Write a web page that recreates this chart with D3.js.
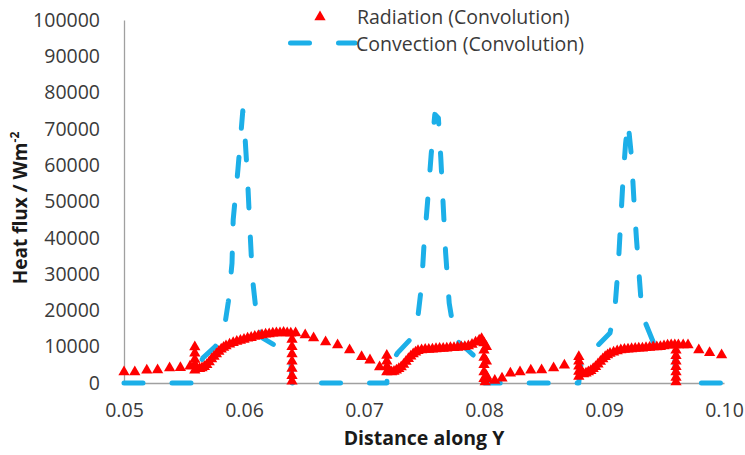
<!DOCTYPE html>
<html>
<head>
<meta charset="utf-8">
<script src="https://cdn.jsdelivr.net/npm/d3@7"></script>
<style>
  body { margin: 0; background: #fff; }
  text { font-family: "Open Sans", sans-serif; }
</style>
</head>
<body>
<div id="chart"></div>
<script>
// chart data
const xTicks = [0.05, 0.06, 0.07, 0.08, 0.09, 0.10];
const yTicks = [0, 10000, 20000, 30000, 40000, 50000, 60000, 70000, 80000, 90000, 100000];
const seriesNames = ["Radiation (Convolution)", "Convection (Convolution)"];
const xTitle = "Distance along Y";

// [distance, heat flux]
const radiation = [
  [0.0500, 3000], [0.0509, 3000], [0.0519, 3500], [0.0528, 3600], [0.0538, 4100], [0.0547, 4200], [0.0555, 4600],
  [0.0559, 3500], [0.0559, 5000], [0.0559, 6500], [0.0559, 8200], [0.0559, 9900],
  [0.0561, 4000], [0.0563, 3900], [0.0565, 4100], [0.0567, 4500], [0.0569, 5000], [0.0571, 5800], [0.0573, 6600],
  [0.0575, 7300], [0.0577, 8000], [0.0579, 8700], [0.0581, 9300], [0.0583, 9800], [0.0585, 10200], [0.0588, 10700],
  [0.0591, 11100], [0.0594, 11400], [0.0597, 11700], [0.0600, 12000], [0.0603, 12300], [0.0606, 12500], [0.0609, 12800],
  [0.0612, 13000], [0.0615, 13200], [0.0618, 13400], [0.0621, 13500], [0.0624, 13700], [0.0627, 13800], [0.0630, 13800],
  [0.0633, 13900], [0.0636, 13800], [0.0639, 13700],
  [0.0640, 12000], [0.0640, 10000], [0.0640, 8000], [0.0640, 6000], [0.0640, 4000], [0.0640, 2000], [0.0640, 500],
  [0.0643, 13800], [0.0651, 13200], [0.0658, 12400], [0.0668, 11300], [0.0678, 10500], [0.0688, 9100], [0.0698, 7200],
  [0.0705, 6300], [0.0713, 4400],
  [0.0719, 3000], [0.0719, 4500], [0.0719, 6000], [0.0719, 7600],
  [0.0721, 3500], [0.0723, 3000], [0.0725, 3200], [0.0727, 3500], [0.0729, 3900], [0.0731, 4400], [0.0733, 5100],
  [0.0735, 5900], [0.0737, 6700], [0.0739, 7400], [0.0741, 8000], [0.0743, 8500], [0.0745, 8900], [0.0748, 9100],
  [0.0751, 9200], [0.0754, 9200], [0.0757, 9300], [0.0760, 9400], [0.0763, 9500], [0.0766, 9500], [0.0769, 9600],
  [0.0772, 9700], [0.0775, 9700], [0.0778, 9800], [0.0781, 9900], [0.0784, 10000], [0.0787, 10200], [0.0790, 10600],
  [0.0793, 11200], [0.0796, 11800], [0.0798, 12200],
  [0.0800, 11000], [0.0800, 9000], [0.0800, 7000], [0.0800, 5000], [0.0800, 3000], [0.0800, 1200], [0.0801, 300],
  [0.0802, 10000], [0.0802, 6000], [0.0802, 2000],
  [0.0803, 1200], [0.0809, 700], [0.0815, 1300], [0.0822, 2700], [0.0830, 3000], [0.0839, 3500], [0.0848, 3600],
  [0.0858, 4100], [0.0867, 4900],
  [0.0879, 1800], [0.0879, 3200], [0.0879, 4600], [0.0879, 6000], [0.0879, 7200],
  [0.0881, 3000], [0.0883, 2500], [0.0885, 2700], [0.0887, 3000], [0.0889, 3400], [0.0891, 3900], [0.0893, 4500],
  [0.0895, 5200], [0.0897, 5900], [0.0899, 6600], [0.0901, 7200], [0.0903, 7700], [0.0905, 8100], [0.0908, 8500],
  [0.0911, 8800], [0.0914, 9100], [0.0917, 9200], [0.0920, 9300], [0.0923, 9400], [0.0926, 9500], [0.0929, 9600],
  [0.0932, 9600], [0.0935, 9700], [0.0938, 9800], [0.0941, 9900], [0.0944, 9900], [0.0947, 10000], [0.0950, 10200],
  [0.0953, 10400], [0.0956, 10500], [0.0959, 10500],
  [0.0960, 9000], [0.0960, 7500], [0.0960, 6000], [0.0960, 4500], [0.0960, 3000], [0.0960, 1500], [0.0960, 300],
  [0.0962, 10500], [0.0966, 10500], [0.0970, 10500], [0.0979, 9100], [0.0988, 8300], [0.0998, 7700]
];

const convection = [
  [0.0500, 0], [0.0559, 0], [0.0560, 3500], [0.0566, 7000], [0.0576, 10000], [0.0582, 13000], [0.0584, 16000],
  [0.0587, 22500], [0.0590, 33000], [0.0591, 45000], [0.0595, 59000], [0.0599, 75000], [0.0601, 67000],
  [0.0603, 56000], [0.0605, 42000], [0.0607, 29000], [0.0611, 17000], [0.0615, 12500], [0.0625, 10500],
  [0.0633, 9000], [0.0639, 7000], [0.0640, 0],
  [0.0719, 0], [0.0720, 4000], [0.0728, 8300], [0.0740, 12500], [0.0745, 18500], [0.0748, 27000], [0.0750, 38000],
  [0.0753, 50000], [0.0756, 63000], [0.0759, 74000], [0.0762, 73000], [0.0764, 62000], [0.0766, 49000],
  [0.0768, 36000], [0.0771, 22000], [0.0776, 12000], [0.0785, 9500], [0.0791, 7700], [0.0798, 5500], [0.0800, 0],
  [0.0879, 0], [0.0880, 4000], [0.0883, 7200], [0.0891, 9100], [0.0905, 13800], [0.0909, 20000], [0.0912, 33000],
  [0.0914, 45000], [0.0916, 57000], [0.0918, 66000], [0.0920, 72000], [0.0923, 62000], [0.0925, 50000],
  [0.0927, 40000], [0.0929, 31000], [0.0931, 22000], [0.0934, 17000], [0.0941, 11300], [0.0953, 8300],
  [0.0959, 6500], [0.0960, 0],
  [0.1000, 0]
];

const width = 745, height = 455;
const red = "#ff0000", blue = "#1cafe8";

const svg = d3.select('#chart')
              .append('svg')
              .attr('width', width)
              .attr('height', height);

const x = d3.scaleLinear().domain([0.05, 0.10]).range([124, 724]);
const y = d3.scaleLinear().domain([0, 100000]).range([383, 20]);

// axes
const yAxis = svg.append("g")
  .attr("transform", "translate(124,0)")
  .call(d3.axisLeft(y).tickValues(yTicks).tickSize(0).tickSizeOuter(0).tickPadding(24).tickFormat(d3.format("d")));

const xAxis = svg.append("g")
  .attr("transform", "translate(0,383)")
  .call(d3.axisBottom(x).tickValues(xTicks).tickSize(0).tickSizeOuter(0).tickPadding(20).tickFormat(d3.format(".2f")));

svg.selectAll(".domain").attr("stroke", "#a0a0a0").attr("stroke-width", 1.3);
svg.selectAll(".tick text")
   .attr("fill", "#3a3a3a")
   .style("font-size", "19.5px")
   .style("font-family", "'Open Sans', sans-serif");

// axis titles
svg.append("text")
   .attr("x", 424)
   .attr("y", 445)
   .attr("text-anchor", "middle")
   .style("font-size", "19.5px")
   .style("font-weight", "bold")
   .attr("fill", "#1a1a1a")
   .text(xTitle);

const yTitle = svg.append("text")
   .attr("transform", "translate(27,208) rotate(-90)")
   .attr("text-anchor", "middle")
   .style("font-size", "19px")
   .style("font-weight", "bold")
   .attr("fill", "#1a1a1a");
yTitle.append("tspan").text("Heat flux / Wm");
yTitle.append("tspan").attr("dy", "-8").style("font-size", "12px").text("-2");

// convection line
const line = d3.line()
  .x(d => x(d[0]))
  .y(d => y(d[1]));

svg.append("path")
   .datum(convection)
   .attr("d", line)
   .attr("fill", "none")
   .attr("stroke", blue)
   .attr("stroke-width", 5)
   .attr("stroke-linecap", "round")
   .attr("stroke-linejoin", "round")
   .attr("stroke-dasharray", "19 29");

// radiation markers
const tri = d3.symbol().type(d3.symbolTriangle).size(55);
svg.append("g")
  .selectAll("path")
  .data(radiation)
  .enter()
  .append("path")
  .attr("d", tri)
  .attr("transform", d => "translate(" + x(d[0]) + "," + y(d[1]) + ")")
  .attr("fill", red);

// legend
const legend = svg.append("g");
legend.append("path")
  .attr("d", tri)
  .attr("transform", "translate(320,17)")
  .attr("fill", red);
legend.append("path")
  .attr("d", "M290.5,43H355")
  .attr("stroke", blue)
  .attr("stroke-width", 5)
  .attr("stroke-linecap", "round")
  .attr("stroke-dasharray", "19 29");
legend.selectAll("text.lab")
  .data(seriesNames)
  .enter()
  .append("text")
  .attr("class", "lab")
  .attr("x", (d, i) => i === 0 ? 357 : 356)
  .attr("y", (d, i) => i === 0 ? 17 : 44)
  .attr("dy", "0.35em")
  .attr("fill", "#3a3a3a")
  .style("font-size", "19.5px")
  .text(d => d);
</script>
</body>
</html>
